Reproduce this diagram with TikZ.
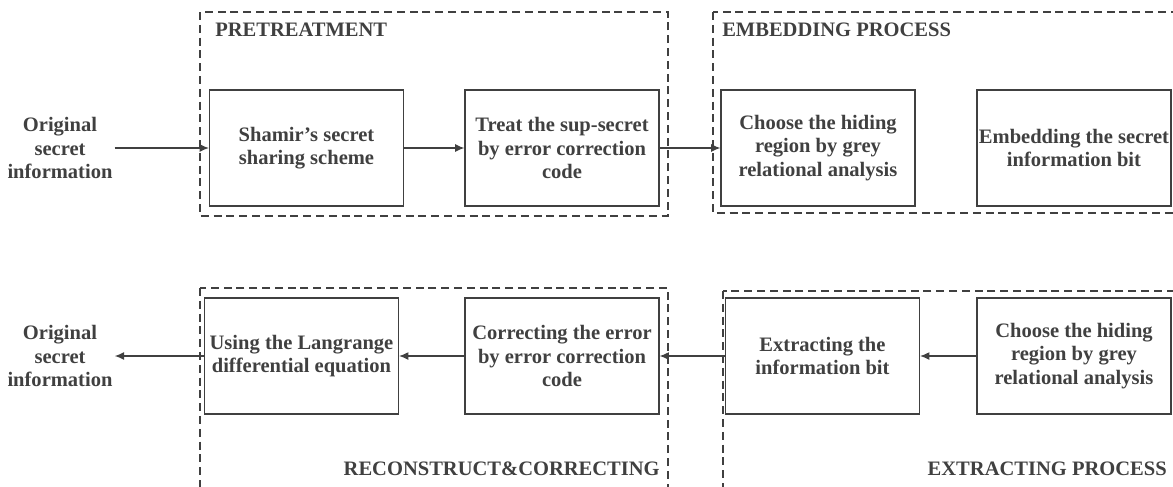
\documentclass[tikz,border=0pt]{standalone}
\usepackage{fontspec}
\setmainfont{Liberation Serif}
\usetikzlibrary{arrows.meta}

\definecolor{ink}{HTML}{404040}

\tikzset{
  stepbox/.style={draw=ink, line width=0.9pt, minimum width=145.5pt, minimum height=87pt,
    align=center, text=ink, font=\fontsize{15.4}{17.4}\selectfont\bfseries, inner sep=1pt},
  endtext/.style={align=center, text=ink, font=\fontsize{15.4}{17.4}\selectfont\bfseries, inner sep=1.5pt},
  grouptitle/.style={text=ink, font=\fontsize{15.4}{17.4}\selectfont\bfseries, inner sep=0pt},
  groupframe/.style={draw=ink, line width=0.8pt, dash pattern=on 6pt off 3.6pt},
  flow/.style={draw=ink, line width=0.9pt, -{Latex[length=7pt,width=6pt]}}
}

\begin{document}
\begin{tikzpicture}[x=0.75pt,y=-0.75pt]
\useasboundingbox (0,0) rectangle (1173,486);

% groups
\draw[groupframe] (200,12) rectangle (668,216);
\draw[groupframe] (713,12) rectangle (1180,213);
\draw[groupframe] (200,288) rectangle (668,495);
\draw[groupframe] (723,291) rectangle (1180,495);

\node[grouptitle, anchor=west] (t1) at (215,30) {PRETREATMENT};
\node[grouptitle, anchor=west] (t2) at (722,30) {EMBEDDING PROCESS};
\node[grouptitle, anchor=east] (t3) at (660,469) {RECONSTRUCT\&CORRECTING};
\node[grouptitle, anchor=east] (t4) at (1167,469) {EXTRACTING PROCESS};

% top row
\node[endtext] (in) at (60,148) {Original\\secret\\information};
\node[stepbox] (shamir) at (306.5,148) {Shamir's secret\\sharing scheme};
\node[stepbox] (treat) at (562,148) {Treat the sup-secret\\by error correction\\code};
\node[stepbox] (choose) at (818,148) {Choose the hiding\\region by grey\\relational analysis};
\node[stepbox] (embed) at (1074,148) {Embedding the secret\\information bit};

% bottom row
\node[endtext] (out) at (60,356) {Original\\secret\\information};
\node[stepbox] (lagr) at (301.5,356) {Using the Langrange\\differential equation};
\node[stepbox] (corr) at (562,356) {Correcting the error\\by error correction\\code};
\node[stepbox] (extr) at (822.5,356) {Extracting the\\information bit};
\node[stepbox] (choose2) at (1074,356) {Choose the hiding\\region by grey\\relational analysis};

\draw[flow] (in) -- (shamir);
\draw[flow] (shamir) -- (treat);
\draw[flow] (treat) -- (choose);

\draw[flow] (choose2) -- (extr);
\draw[flow] (extr) -- (corr);
\draw[flow] (corr) -- (lagr);
\draw[flow] (lagr) -- (out);
\end{tikzpicture}
\end{document}
